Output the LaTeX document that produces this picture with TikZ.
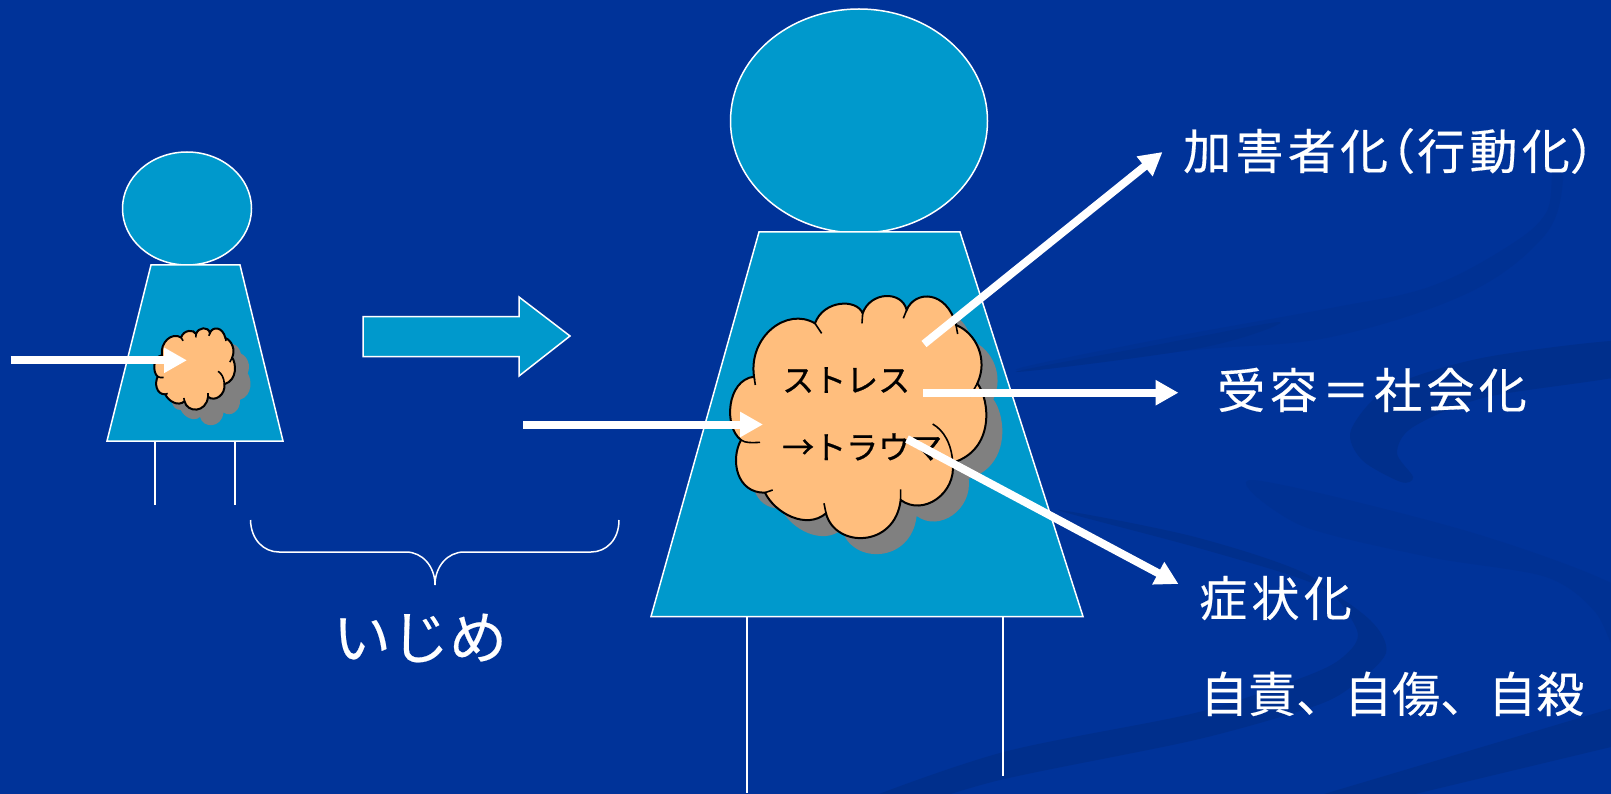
\documentclass[tikz,border=0pt]{standalone}
\usepackage{fontspec}
\setmainfont[FakeBold=0.35]{Noto Sans CJK JP}
\newfontfamily\cjkwide[LetterSpace=9,FakeBold=0.35]{Noto Sans CJK JP}
\newfontfamily\cjkhalf[RawFeature=+halt,FakeBold=0.35]{Noto Sans CJK JP}
\newfontfamily\cjkheavy[FakeBold=0.8]{Noto Sans CJK JP}
\usetikzlibrary{arrows.meta,shapes.geometric}
\definecolor{bgblue}{HTML}{003399}
\definecolor{darkblue}{HTML}{002F8C}
\definecolor{faintblue}{HTML}{003193}
\definecolor{teal}{HTML}{0099CC}
\definecolor{cloudfill}{HTML}{FFBE7D}
\definecolor{shadowgray}{HTML}{808080}
\newcommand{\cloudoutline}{(222,290) .. controls (205,170) and (320,80) .. (405,130)
 .. controls (430,60) and (530,55) .. (548,100)
 .. controls (570,35) and (665,30) .. (680,90)
 .. controls (705,30) and (800,30) .. (828,135)
 .. controls (890,160) and (925,240) .. (892,310)
 .. controls (930,360) and (945,510) .. (818,548)
 .. controls (830,640) and (730,710) .. (662,660)
 .. controls (645,805) and (465,805) .. (438,700)
 .. controls (380,750) and (285,700) .. (255,638)
 .. controls (170,640) and (150,540) .. (183,480)
 .. controls (130,440) and (140,300) .. cycle}
\newcommand{\cloudtails}{(222,290) -- (226,315)
 (405,130) -- (425,160)
 (548,100) -- (546,130)
 (680,90) -- (670,115)
 (828,135) -- (833,162)
 (892,310) -- (870,350)
 (818,548) .. controls (815,490) and (790,450) .. (758,432)
 (662,660) -- (662,628)
 (438,700) -- (432,670)
 (255,638) -- (278,630)
 (183,480) .. controls (195,490) and (220,488) .. (240,487)}
\tikzset{
  x=1pt,y=-1pt,
  swirl/.style={fill=darkblue,draw=none},
  faintswirl/.style={fill=faintblue,draw=none},
  figure/.style={fill=teal,draw=white,line width=1.5pt,line join=miter},
  headshape/.style={ellipse,fill=teal,draw=white,line width=1.5pt,inner sep=0pt},
  legline/.style={draw=white,line width=1.5pt},
  cloudbody/.style={fill=cloudfill,draw=black,line width=2pt},
  cloudshadow/.style={fill=shadowgray},
  cloudmark/.style={draw=black,line width=1.6pt},
  whitearrow/.style={draw=white,line width=8pt,-{Triangle[length=23pt,width=24pt]}},
  widetext/.style={text=white,inner sep=0pt,anchor=west,font=\cjkwide\fontsize{48}{48}\selectfont},
  plaintext/.style={text=white,inner sep=0pt,anchor=west,font=\fontsize{48}{48}\selectfont},
  cloudtext/.style={text=black,inner sep=0pt,anchor=west,font=\cjkheavy\fontsize{32}{32}\selectfont},
}
\begin{document}
\begin{tikzpicture}
\useasboundingbox (0,0) rectangle (1611,794);
\fill[bgblue] (0,0) rectangle (1611,794);
\begin{scope}
\clip (0,0) rectangle (1611,794);
\path[faintswirl] plot[smooth cycle,tension=.6] coordinates {(1016,370) (1156,340) (1331,308) (1429,287) (1507,247) (1546,213) (1553,170) (1563,180) (1545,235) (1468,293) (1331,337) (1195,350)};
\path[swirl] plot[smooth cycle,tension=.6] coordinates {(1016,372) (1156,345) (1280,322) (1200,348)};
\path[faintswirl] plot[smooth cycle,tension=.5] coordinates {(1253,480) (1300,525) (1429,557) (1546,577) (1596,613) (1625,670) (1640,600) (1480,535)};
\path[swirl] plot[smooth cycle,tension=.5] coordinates {(1640,340) (1487,357) (1390,387) (1351,430) (1362,460) (1401,482) (1413,477) (1397,453) (1413,427) (1487,397) (1640,372)};
\path[swirl] plot[smooth cycle,tension=.5] coordinates {(1058,510) (1195,547) (1312,583) (1370,620) (1386,653) (1351,687) (1312,707) (1195,740) (1000,780) (880,815) (840,810) (1000,753) (1195,713) (1304,677) (1343,657) (1357,630) (1312,577) (1195,537)};
\path[swirl] (1304,800) -- (1640,700) -- (1640,740) -- (1390,800) -- cycle;
\end{scope}

% small figure
\node[headshape,minimum width=129pt,minimum height=113pt] (headS) at (187,208.5) {};
\draw[figure] (151,265) -- (240,265) -- (283,441) -- (107,441) -- cycle;
\coordinate (legSa) at (155,441); \coordinate (legSb) at (155,505);
\coordinate (legSc) at (235,441); \coordinate (legSd) at (235,505);
\draw[legline] (legSa) -- (legSb);
\draw[legline] (legSc) -- (legSd);
\begin{scope}[shift={(154,338.5)},xscale=.105,yscale=.112]
\fill[cloudshadow] \cloudoutline;
\end{scope}
\begin{scope}[shift={(138.5,322.9)},xscale=.105,yscale=.112]
\path[cloudbody] \cloudoutline;
\draw[cloudmark] \cloudtails;
\end{scope}
\coordinate (inS) at (10.5,360.3);
\coordinate (inSend) at (187,360.3);
\draw[whitearrow] (inS) -- (inSend);

% block arrow
\draw[figure] (363,316.5) -- (519,316.5) -- (519,297) -- (570,336) -- (519,376) -- (519,356.5) -- (363,356.5) -- cycle;

% brace
\draw[draw=white,line width=1.5pt] (250.5,520) .. controls (251,540) and (264,552) .. (279,552) -- (406,552) .. controls (422,552) and (435,566) .. (435,585) .. controls (435,566) and (448,552) .. (464,552) -- (591,552) .. controls (606,552) and (619,540) .. (619,520);
\node[text=white,inner sep=0pt,font=\fontsize{58}{58}\selectfont] (ijime) at (420,638) {いじめ};

% big figure
\node[headshape,minimum width=257pt,minimum height=224pt] (headB) at (859,121) {};
\draw[figure] (759,232) -- (960,232) -- (1083,616.5) -- (651,616.5) -- cycle;
\coordinate (legBa) at (747,616.5); \coordinate (legBb) at (747,793);
\coordinate (legBc) at (1003,616.5); \coordinate (legBd) at (1003,776);
\draw[legline] (legBa) -- (legBb);
\draw[legline] (legBc) -- (legBd);
\begin{scope}[shift={(696,296)},scale=1/3]
\fill[cloudshadow] \cloudoutline;
\end{scope}
\begin{scope}[shift={(680,280)},scale=1/3]
\path[cloudbody] \cloudoutline;
\draw[cloudmark] \cloudtails;
\end{scope}
\node[cloudtext] (stress) at (782,380) {ストレス};
\node[cloudtext] (trauma) at (782,447) {→トラウマ};

% arrows
\coordinate (inB) at (523,424.5);
\coordinate (inBend) at (763,424.5);
\draw[whitearrow] (inB) -- (inBend);
\coordinate (outA) at (924,344);
\coordinate (outAend) at (1162.5,152);
\draw[whitearrow] (outA) -- (outAend);
\coordinate (outB) at (923,392.7);
\coordinate (outBend) at (1178.5,392.7);
\draw[whitearrow] (outB) -- (outBend);
\coordinate (outC) at (907,439);
\coordinate (outCend) at (1178.5,584);
\draw[whitearrow] (outC) -- (outCend);

% labels
\node[widetext] (kagai) at (1183,151) {加害者化\hspace{3pt}{\cjkhalf\fontsize{48}{48}\selectfont （}\hspace{2pt}行動化{\cjkhalf\fontsize{48}{48}\selectfont ）}};
\node[widetext] (juyo) at (1217,390) {受容＝社会化};
\node[widetext] (shojo) at (1199,598) {症状化};
\node[plaintext] (jiseki) at (1200,694) {自責、自傷、自殺};
\end{tikzpicture}
\end{document}
